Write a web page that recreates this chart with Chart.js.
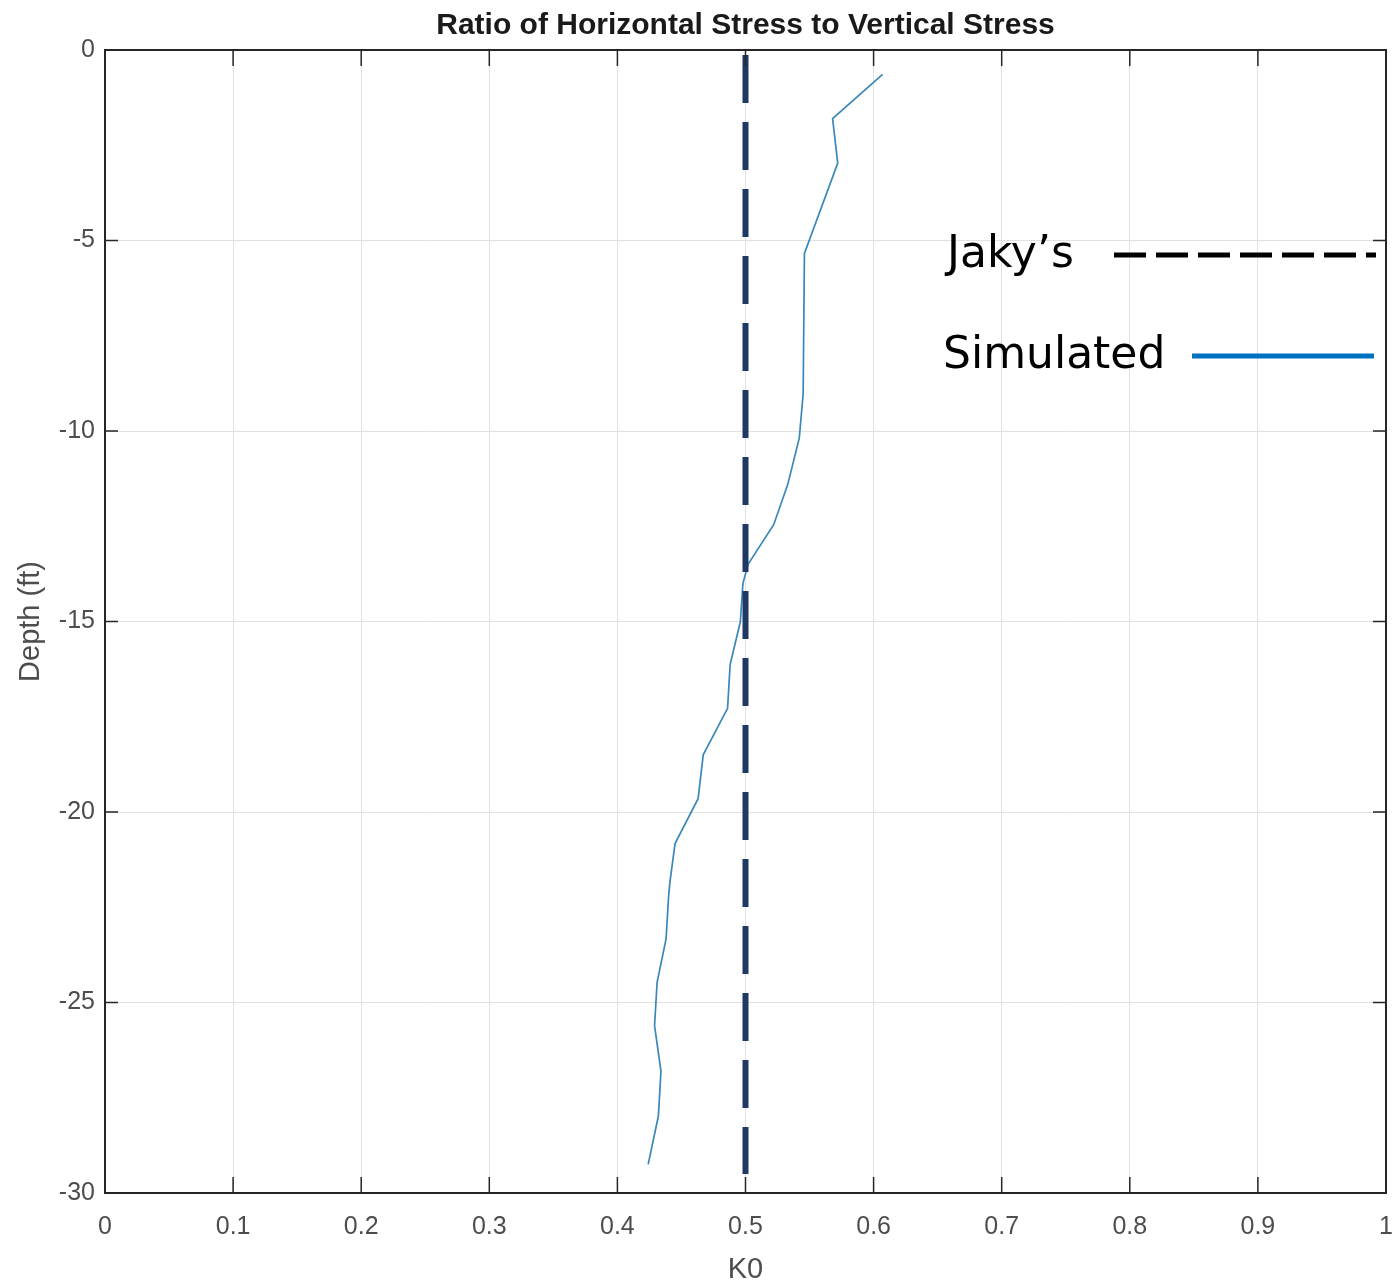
<!DOCTYPE html>
<html>
<head>
<meta charset="utf-8">
<script src="https://cdn.jsdelivr.net/npm/chart.js@4.4.1/dist/chart.umd.min.js"></script>
<style>
  body { margin: 0; background: #fff; }
  #wrap { width: 1392px; height: 1287px; }
</style>
</head>
<body>
<div id="wrap"><canvas id="k0Chart" width="1392" height="1287"></canvas></div>
<script>
// simulated K0 profile
const depthSim = [-0.64, -1.80, -2.97, -5.34, -9.03, -10.18, -11.4, -12.46, -13.5, -14.0, -15.0, -16.13, -17.28, -18.5, -19.65, -20.83, -21.84, -22.2, -23.33, -24.47, -25.61, -26.8, -27.98, -29.25];
const k0Sim    = [0.607, 0.568, 0.572, 0.546, 0.545, 0.542, 0.533, 0.522, 0.502, 0.498, 0.496, 0.488, 0.486, 0.467, 0.463, 0.445, 0.441, 0.440, 0.438, 0.431, 0.429, 0.434, 0.432, 0.424];

// Jaky's estimate (constant)
const depthJaky = [0, -29.5];
const k0Jaky    = [0.5, 0.5];

const xTicks = [0, 0.1, 0.2, 0.3, 0.4, 0.5, 0.6, 0.7, 0.8, 0.9, 1];
const yTicks = [0, -5, -10, -15, -20, -25, -30];

const legendItems = [
    { label: 'Jaky\u2019s', color: '#000000', dash: [32, 10] },
    { label: 'Simulated', color: '#0070C0', dash: [] }
];

const axisColor = '#262626';
const labelColor = '#4d4d4d';

const boxAndTicks = {
    id: 'boxAndTicks',
    afterDraw(chart) {
        const ctx = chart.ctx;
        const a = chart.chartArea;
        const xs = chart.scales.x, ys = chart.scales.y;
        ctx.save();
        ctx.strokeStyle = axisColor;
        ctx.lineWidth = 1.5;
        ctx.beginPath();
        xTicks.forEach(v => {
            const px = xs.getPixelForValue(v);
            ctx.moveTo(px, a.bottom); ctx.lineTo(px, a.bottom - 16);
            ctx.moveTo(px, a.top); ctx.lineTo(px, a.top + 16);
        });
        yTicks.forEach(v => {
            const py = ys.getPixelForValue(v);
            ctx.moveTo(a.left, py); ctx.lineTo(a.left + 13, py);
            ctx.moveTo(a.right, py); ctx.lineTo(a.right - 13, py);
        });
        ctx.stroke();
        ctx.lineWidth = 2;
        ctx.strokeRect(a.left, a.top, a.right - a.left, a.bottom - a.top);
        ctx.restore();
    }
};

const sideLegend = {
    id: 'sideLegend',
    afterDraw(chart) {
        const ctx = chart.ctx;
        ctx.save();
        ctx.font = '44px "DejaVu Sans"';
        ctx.fillStyle = '#000';
        ctx.textBaseline = 'alphabetic';
        ctx.fillText(legendItems[0].label, 947, 267);
        ctx.fillText(legendItems[1].label, 943, 368);

        ctx.lineWidth = 5;
        ctx.strokeStyle = legendItems[0].color;
        ctx.setLineDash(legendItems[0].dash);
        ctx.beginPath();
        ctx.moveTo(1114, 255); ctx.lineTo(1376, 255);
        ctx.stroke();

        ctx.strokeStyle = legendItems[1].color;
        ctx.setLineDash(legendItems[1].dash);
        ctx.beginPath();
        ctx.moveTo(1192, 356); ctx.lineTo(1374, 356);
        ctx.stroke();
        ctx.restore();
    }
};

const ctx = document.getElementById('k0Chart').getContext('2d');
const k0Chart = new Chart(ctx, {
    type: 'scatter',
    data: {
        datasets: [{
            label: 'Jaky\u2019s',
            data: k0Jaky.map((k, i) => ({ x: k, y: depthJaky[i] })),
            showLine: true,
            borderColor: '#1f3864',
            borderWidth: 6,
            borderDash: [48, 19],
            borderDashOffset: -5,
            pointRadius: 0
        }, {
            label: 'Simulated',
            data: k0Sim.map((k, i) => ({ x: k, y: depthSim[i] })),
            showLine: true,
            borderColor: '#3a88ba',
            borderWidth: 1.7,
            pointRadius: 0,
            tension: 0
        }]
    },
    options: {
        responsive: false,
        animation: false,
        devicePixelRatio: 1,
        layout: { padding: { left: 0, right: 6, top: 0, bottom: 0 } },
        plugins: {
            legend: { display: false },
            tooltip: { enabled: false },
            title: {
                display: true,
                fullSize: false,
                text: 'Ratio of Horizontal Stress to Vertical Stress',
                color: '#1a1a1a',
                font: { family: '"Liberation Sans", Arial, sans-serif', size: 30, weight: 'bold' },
                padding: { top: 8, bottom: 6 }
            }
        },
        scales: {
            x: {
                type: 'linear',
                min: 0, max: 1,
                afterFit: s => { s.height = 94; s.paddingLeft = 0; s.paddingRight = 0; },
                afterBuildTicks: s => { s.ticks = xTicks.map(v => ({ value: v })); },
                grid: { color: '#e1e1e1', lineWidth: 1, drawTicks: false },
                border: { display: false },
                ticks: {
                    color: labelColor,
                    padding: 19,
                    maxRotation: 0,
                    font: { family: '"Liberation Sans", Arial, sans-serif', size: 25 },
                    callback: v => String(+v.toFixed(1))
                },
                title: {
                    display: true, text: 'K0', color: labelColor,
                    font: { family: '"Liberation Sans", Arial, sans-serif', size: 29 },
                    padding: { top: 0, bottom: 0 }
                }
            },
            y: {
                type: 'linear',
                min: -30, max: 0,
                afterFit: s => { s.width = 105; s.paddingTop = 0; s.paddingBottom = 0; },
                afterBuildTicks: s => { s.ticks = yTicks.slice().reverse().map(v => ({ value: v })); },
                grid: { color: '#e1e1e1', lineWidth: 1, drawTicks: false },
                border: { display: false },
                ticks: {
                    color: labelColor,
                    padding: 10,
                    font: { family: '"Liberation Sans", Arial, sans-serif', size: 25 },
                    callback: v => String(v)
                },
                title: {
                    display: true, text: 'Depth (ft)', color: labelColor,
                    font: { family: '"Liberation Sans", Arial, sans-serif', size: 29 },
                    padding: { top: 14, bottom: 0 }
                }
            }
        }
    },
    plugins: [boxAndTicks, sideLegend]
});
</script>
</body>
</html>
